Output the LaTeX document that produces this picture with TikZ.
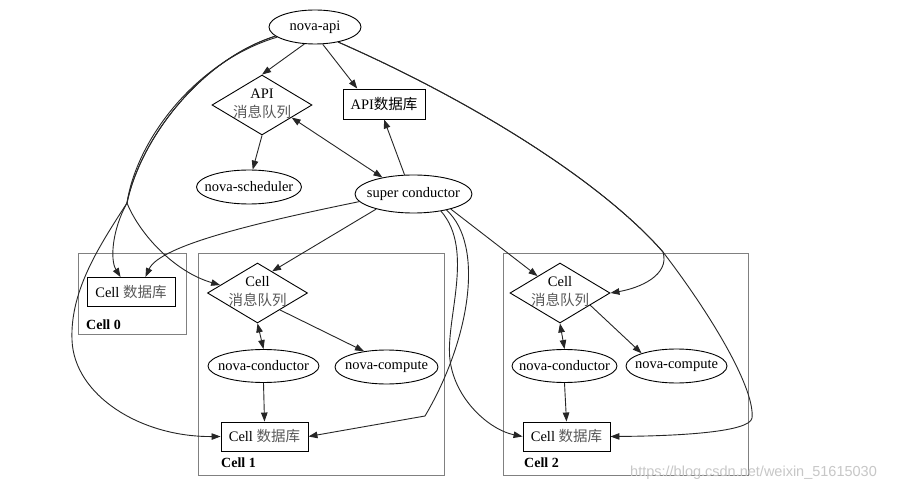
\documentclass[tikz,border=0pt]{standalone}
\usepackage{fontspec}
\setmainfont{Liberation Serif}
\newfontfamily\zh{Noto Sans CJK SC}
\newfontfamily\wmfont{Liberation Sans}
\usetikzlibrary{shapes.geometric,arrows.meta}
\newcommand\nbx[1]{\makebox[0pt]{#1}}
\tikzset{
  ell/.style={draw=black, ellipse, inner sep=0pt, line width=0.9pt, font=\fontsize{14.5}{16}\selectfont},
  dia/.style={draw=black, diamond, inner sep=0pt, minimum width=100pt, minimum height=60pt, line width=0.9pt},
  diatext/.style={align=center, inner sep=0pt, font=\fontsize{14.5}{19}\selectfont},
  dbbox/.style={draw=black, rectangle, inner sep=0pt, minimum width=88pt, minimum height=29pt, line width=0.9pt, font=\fontsize{14.5}{16}\selectfont},
  cluster/.style={draw=black!50, rectangle, inner sep=0pt, line width=0.9pt},
  lbl/.style={font=\bfseries\fontsize{14}{16}\selectfont, anchor=west, inner sep=0pt},
  edge/.style={draw=black!85, line width=0.9pt, -{Triangle[length=9pt,width=6.5pt]}},
  bi/.style={draw=black!85, line width=0.9pt, {Triangle[length=9pt,width=6.5pt]}-{Triangle[length=9pt,width=6.5pt]}}
}
\begin{document}
\begin{tikzpicture}[x=1pt,y=-1pt]
\fill[white] (0,0) rectangle (910,494);
\useasboundingbox (0,0) rectangle (910,494);

% clusters
\node[cluster, minimum width=108pt, minimum height=81pt] (c0) at (132,293.5) {};
\node[cluster, minimum width=246pt, minimum height=222pt] (c1) at (321,364) {};
\node[cluster, minimum width=245pt, minimum height=222pt] (c2) at (625.5,364) {};
\node[lbl] (c0l) at (86,325) {Cell 0};
\node[lbl] (c1l) at (221,463) {Cell 1};
\node[lbl] (c2l) at (524,463) {Cell 2};

% top nodes
\node[ell, minimum width=92pt, minimum height=34pt] (api) at (315,27) {\nbx{nova-api}};
\node[dia] (amq) at (262,105) {};
\node[diatext] (amqt) at (262,104) {API\\{\zh\color{black!65}消息队列}};
\node[dbbox, minimum width=82pt, minimum height=30pt] (adb) at (384,104) {API{\zh 数据库}};
\node[ell, minimum width=105pt, minimum height=34pt] (sched) at (249,187) {\nbx{nova-scheduler}};
\node[ell, minimum width=117pt, minimum height=38pt] (sc) at (413.5,194) {\nbx{super conductor}};

% cell 0
\node[dbbox] (c0db) at (131,292) {Cell {\zh\color{black!65}数据库}};

% cell 1
\node[dia] (c1mq) at (257.5,293) {};
\node[diatext] (c1mqt) at (257.5,292) {Cell\\{\zh\color{black!65}消息队列}};
\node[ell, minimum width=111pt, minimum height=33pt] (c1cond) at (263.5,366) {\nbx{nova-conductor}};
\node[ell, minimum width=103pt, minimum height=34pt] (c1comp) at (386.5,367) {\nbx{nova-compute}};
\node[dbbox, minimum width=87pt] (c1db) at (264.5,436.5) {Cell {\zh\color{black!65}数据库}};

% cell 2
\node[dia] (c2mq) at (560,293) {};
\node[diatext] (c2mqt) at (560,292) {Cell\\{\zh\color{black!65}消息队列}};
\node[ell, minimum width=105pt, minimum height=33pt] (c2cond) at (564.5,366) {\nbx{nova-conductor}};
\node[ell, minimum width=101pt, minimum height=34pt] (c2comp) at (676.5,366) {\nbx{nova-compute}};
\node[dbbox, minimum width=87pt] (c2db) at (566.5,436.5) {Cell {\zh\color{black!65}数据库}};

% split points
\coordinate (lsplit) at (127,203);
\coordinate (rsplit) at (663,252);

% nova-api edges
\draw[edge] (api.238) -- (amq.north);
\draw[edge] (api.294) -- (adb.150);
\draw[edge] (api.193) .. controls (200,60) and (140,140) .. (lsplit)
  .. controls (112,230) and (110,260) .. (c0db.125);
\draw[edge] (api.193) .. controls (200,60) and (140,140) .. (lsplit)
  .. controls (140,235) and (175,272) .. (c1mq.168);
\draw[edge] (api.195) .. controls (194,62) and (136,142) .. (lsplit)
  .. controls (100,245) and (70,290) .. (72,340)
  .. controls (74,395) and (140,437) .. (c1db.west);
\draw[edge] (api.-33) .. controls (470,100) and (600,180) .. (rsplit)
  .. controls (670,275) and (640,288) .. (c2mq.east);
\draw[edge] (api.-33) .. controls (470,100) and (600,180) .. (rsplit)
  .. controls (715,320) and (755,390) .. (752,418)
  .. controls (750,432) and (680,436) .. (c2db.east);

% API mq
\draw[edge] (amq.south) -- (sched.78);
\draw[bi] (amq.-23) -- (sc.152);

% super conductor edges
\draw[edge] (sc.115) -- (adb.south);
\draw[edge] (sc.188) .. controls (260,222) and (160,245) .. (c0db.46);
\draw[edge] (sc.202) -- (c1mq.56);
\draw[edge] (sc.-22) -- (c2mq.143);
\draw[edge] (sc.-26) .. controls (485,245) and (470,340) .. (425,416) -- (c1db.east);
\draw[edge] (sc.-32) .. controls (475,250) and (445,320) .. (450,360)
  .. controls (455,400) and (490,430) .. (c2db.west);

% cell internals
\draw[bi] (c1mq.south) -- (c1cond.north);
\draw[edge] (c1mq.-37) -- (c1comp.145);
\draw[edge] (c1cond.south) -- (c1db.north);
\draw[bi] (c2mq.south) -- (c2cond.north);
\draw[edge] (c2mq.-22) -- (c2comp.160);
\draw[edge] (c2cond.south) -- (c2db.north);

% watermark
\node[anchor=west, inner sep=0pt, text=black!22, font=\wmfont\fontsize{14.5}{16}\selectfont] (wm) at (630,473) {https://blog.csdn.net/weixin\_51615030};
\end{tikzpicture}
\end{document}
